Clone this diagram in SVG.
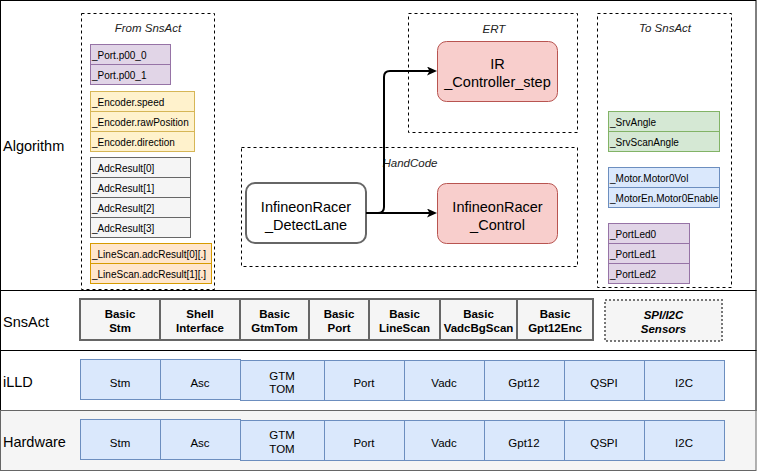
<svg xmlns="http://www.w3.org/2000/svg" width="757" height="471" viewBox="0 0 757 471">
<style>
text{font-family:"Liberation Sans",Arial,sans-serif;fill:#000}
.layer{fill:#fff;stroke:#000;stroke-width:1}
.lbl{font-size:14.5px}
.dash{fill:none;stroke:#000;stroke-width:1;stroke-dasharray:3 3}
.title{font-size:11.5px;font-style:italic;text-anchor:middle;fill:#222}
.it{font-size:10px}
.pur{fill:#e1d5e7;stroke:#9673a6}
.yel{fill:#fff2cc;stroke:#d6b656}
.gry{fill:#f5f5f5;stroke:#666}
.org{fill:#ffe6cc;stroke:#d79b00}
.grn{fill:#d5e8d4;stroke:#82b366}
.blu{fill:#dae8fc;stroke:#6c8ebf}
.red{fill:#f8cecc;stroke:#b85450;stroke-width:1}
.node{font-size:14.5px;text-anchor:middle}
.sa{fill:#f5f5f5;stroke:#666;stroke-width:2}
.sat{font-size:11.5px;font-weight:bold;text-anchor:middle}
.hw{font-size:11.5px;text-anchor:middle}
.conn{fill:none;stroke:#000;stroke-width:2}
</style>
<defs>
<marker id="arr" markerUnits="userSpaceOnUse" markerWidth="11" markerHeight="9" refX="3" refY="4.5" orient="auto">
<path d="M0,0 L10,4.5 L0,9 L2.5,4.5 Z" fill="#000"/>
</marker>
</defs>

<g id="layer-algorithm">
<rect class="layer" x="0.5" y="0.5" width="755.5" height="290"/>
<text class="lbl" x="3" y="151">Algorithm</text>
</g>
<g id="layer-snsact">
<rect class="layer" x="0.5" y="290.5" width="755.5" height="60"/>
<text class="lbl" x="3" y="327">SnsAct</text>
</g>
<g id="layer-illd">
<rect class="layer" x="0.5" y="350.5" width="755.5" height="60"/>
<text class="lbl" x="3" y="387">iLLD</text>
</g>
<g id="layer-hardware">
<rect x="0.5" y="410.5" width="755.5" height="60" fill="#f5f5f5" stroke="#666"/>
<text class="lbl" x="3" y="447" fill="#333">Hardware</text>
</g>

<g id="from-snsact">
<rect class="dash" x="81.5" y="13.5" width="133" height="276"/>
<text class="title" x="148" y="32">From SnsAct</text>
<rect class="pur" x="90.5" y="44.5" width="80" height="20"/><text class="it" x="92" y="58.5">_Port.p00_0</text>
<rect class="pur" x="90.5" y="64.5" width="80" height="20"/><text class="it" x="92" y="78.5">_Port.p00_1</text>
<rect class="yel" x="90.5" y="91.5" width="104" height="20"/><text class="it" x="92" y="105.5">_Encoder.speed</text>
<rect class="yel" x="90.5" y="111.5" width="104" height="20"/><text class="it" x="92" y="125.5">_Encoder.rawPosition</text>
<rect class="yel" x="90.5" y="131.5" width="104" height="20"/><text class="it" x="92" y="145.5">_Encoder.direction</text>
<rect class="gry" x="90.5" y="157.5" width="100" height="20"/><text class="it" x="92" y="171.5">_AdcResult[0]</text>
<rect class="gry" x="90.5" y="177.5" width="100" height="20"/><text class="it" x="92" y="191.5">_AdcResult[1]</text>
<rect class="gry" x="90.5" y="197.5" width="100" height="20"/><text class="it" x="92" y="211.5">_AdcResult[2]</text>
<rect class="gry" x="90.5" y="217.5" width="100" height="20"/><text class="it" x="92" y="231.5">_AdcResult[3]</text>
<rect class="org" x="90.5" y="243.5" width="121" height="20"/><text class="it" x="92" y="257.5">_LineScan.adcResult[0][.]</text>
<rect class="org" x="90.5" y="263.5" width="121" height="20"/><text class="it" x="92" y="277.5">_LineScan.adcResult[1][.]</text>
</g>

<g id="ert">
<rect class="dash" x="408.5" y="13.5" width="169" height="119"/>
<text class="title" x="494" y="33">ERT</text>
</g>
<g id="handcode">
<rect class="dash" x="241.5" y="147.5" width="336" height="119"/>
<text class="title" x="410" y="167">HandCode</text>
</g>

<g id="ir-controller-step">
<rect class="red" x="437.5" y="41.5" width="120" height="60" rx="9"/>
<text class="node" x="497.5" y="69">IR</text>
<text class="node" x="497.5" y="87">_Controller_step</text>
</g>
<g id="detectlane">
<rect x="246" y="183" width="120" height="60" rx="9" fill="#fff" stroke="#666" stroke-width="2"/>
<text class="node" x="306" y="212">InfineonRacer</text>
<text class="node" x="306" y="229.5">_DetectLane</text>
</g>
<g id="control">
<rect class="red" x="437.5" y="183.5" width="120" height="60" rx="9"/>
<text class="node" x="497.5" y="212">InfineonRacer</text>
<text class="node" x="497.5" y="229.5">_Control</text>
</g>

<g id="connectors">
<path class="conn" d="M366,213 L430,213" marker-end="url(#arr)"/>
<path class="conn" d="M366,213 L378,213 Q384,213 384,207 L384,77 Q384,71 390,71 L430,71" marker-end="url(#arr)"/>
</g>

<g id="to-snsact">
<rect class="dash" x="597.5" y="13.5" width="134" height="274"/>
<text class="title" x="665" y="32">To SnsAct</text>
<rect class="grn" x="608.5" y="111.5" width="111" height="20"/><text class="it" x="610" y="125.5">_SrvAngle</text>
<rect class="grn" x="608.5" y="131.5" width="111" height="20"/><text class="it" x="610" y="145.5">_SrvScanAngle</text>
<rect class="blu" x="608.5" y="167.5" width="111" height="20"/><text class="it" x="610" y="181.5">_Motor.Motor0Vol</text>
<rect class="blu" x="608.5" y="187.5" width="111" height="20"/><text class="it" x="610" y="201.5">_MotorEn.Motor0Enable</text>
<rect class="pur" x="608.5" y="223.5" width="81" height="20"/><text class="it" x="610" y="237.5">_PortLed0</text>
<rect class="pur" x="608.5" y="243.5" width="81" height="20"/><text class="it" x="610" y="257.5">_PortLed1</text>
<rect class="pur" x="608.5" y="263.5" width="81" height="20"/><text class="it" x="610" y="277.5">_PortLed2</text>
</g>

<g id="snsact-modules">
<g id="sa-stm"><rect class="sa" x="80" y="299" width="80" height="41"/><text class="sat" x="120" y="317.5">Basic</text><text class="sat" x="120" y="331.5">Stm</text></g>
<g id="sa-shell"><rect class="sa" x="160" y="299" width="80" height="41"/><text class="sat" x="200" y="317.5">Shell</text><text class="sat" x="200" y="331.5">Interface</text></g>
<g id="sa-gtmtom"><rect class="sa" x="240" y="299" width="69" height="41"/><text class="sat" x="274.5" y="317.5">Basic</text><text class="sat" x="274.5" y="331.5">GtmTom</text></g>
<g id="sa-port"><rect class="sa" x="309" y="299" width="60" height="41"/><text class="sat" x="339" y="317.5">Basic</text><text class="sat" x="339" y="331.5">Port</text></g>
<g id="sa-linescan"><rect class="sa" x="369" y="299" width="71" height="41"/><text class="sat" x="404.5" y="317.5">Basic</text><text class="sat" x="404.5" y="331.5">LineScan</text></g>
<g id="sa-vadc"><rect class="sa" x="440" y="299" width="77" height="41"/><text class="sat" x="478.5" y="317.5">Basic</text><text class="sat" x="478.5" y="331.5">VadcBgScan</text></g>
<g id="sa-gpt12"><rect class="sa" x="517" y="299" width="76" height="41"/><text class="sat" x="555" y="317.5">Basic</text><text class="sat" x="555" y="331.5">Gpt12Enc</text></g>
<g id="sa-spi"><rect x="605" y="300" width="117" height="41" fill="#f5f5f5" stroke="#777" stroke-width="2" stroke-dasharray="2 2"/><text class="sat" x="663.5" y="319" font-style="italic">SPI/I2C</text><text class="sat" x="663.5" y="332.5" font-style="italic">Sensors</text></g>
</g>

<g id="illd-modules">
<g id="illd-stm"><rect class="blu" x="80.5" y="359.5" width="80" height="40"/><text class="hw" x="120" y="386.5">Stm</text></g>
<g id="illd-asc"><rect class="blu" x="160.5" y="359.5" width="80" height="40"/><text class="hw" x="200" y="386.5">Asc</text></g>
<g id="illd-gtm"><rect class="blu" x="240.5" y="360.5" width="84" height="40"/><text class="hw" x="282" y="380">GTM</text><text class="hw" x="282" y="393">TOM</text></g>
<g id="illd-port"><rect class="blu" x="324.5" y="360.5" width="80" height="40"/><text class="hw" x="364" y="386.5">Port</text></g>
<g id="illd-vadc"><rect class="blu" x="404.5" y="360.5" width="80" height="40"/><text class="hw" x="444" y="386.5">Vadc</text></g>
<g id="illd-gpt12"><rect class="blu" x="484.5" y="360.5" width="80" height="40"/><text class="hw" x="524" y="386.5">Gpt12</text></g>
<g id="illd-qspi"><rect class="blu" x="564.5" y="360.5" width="80" height="40"/><text class="hw" x="604" y="386.5">QSPI</text></g>
<g id="illd-i2c"><rect class="blu" x="644.5" y="360.5" width="80" height="40"/><text class="hw" x="684" y="386.5">I2C</text></g>
</g>

<g id="hw-modules">
<g id="hw-stm"><rect class="blu" x="80.5" y="419.5" width="80" height="40"/><text class="hw" x="120" y="446.5">Stm</text></g>
<g id="hw-asc"><rect class="blu" x="160.5" y="419.5" width="80" height="40"/><text class="hw" x="200" y="446.5">Asc</text></g>
<g id="hw-gtm"><rect class="blu" x="240.5" y="420.5" width="84" height="40"/><text class="hw" x="282" y="439">GTM</text><text class="hw" x="282" y="453">TOM</text></g>
<g id="hw-port"><rect class="blu" x="324.5" y="420.5" width="80" height="40"/><text class="hw" x="364" y="446.5">Port</text></g>
<g id="hw-vadc"><rect class="blu" x="404.5" y="420.5" width="80" height="40"/><text class="hw" x="444" y="446.5">Vadc</text></g>
<g id="hw-gpt12"><rect class="blu" x="484.5" y="420.5" width="80" height="40"/><text class="hw" x="524" y="446.5">Gpt12</text></g>
<g id="hw-qspi"><rect class="blu" x="564.5" y="420.5" width="80" height="40"/><text class="hw" x="604" y="446.5">QSPI</text></g>
<g id="hw-i2c"><rect class="blu" x="644.5" y="420.5" width="80" height="40"/><text class="hw" x="684" y="446.5">I2C</text></g>
</g>
</svg>
